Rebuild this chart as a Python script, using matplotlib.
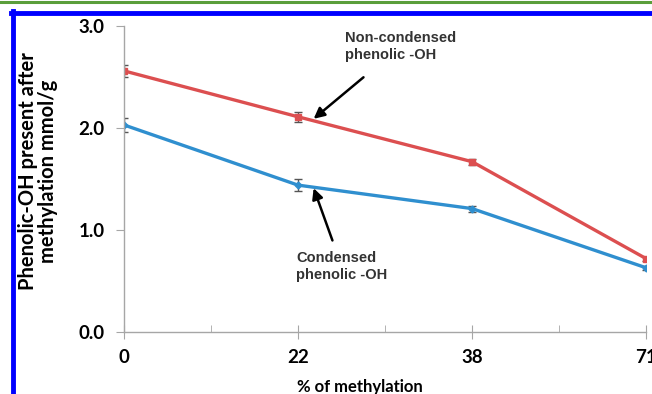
import matplotlib.pyplot as plt
from matplotlib.lines import Line2D
import numpy as np

# data
methylation = ["0", "22", "38", "71"]
non_condensed = [2.56, 2.11, 1.67, 0.72]
non_condensed_err = [0.06, 0.05, 0.03, 0.02]
condensed = [2.03, 1.44, 1.21, 0.63]
condensed_err = [0.07, 0.06, 0.03, 0.02]

plt.rcParams['font.family'] = ['Lato', 'DejaVu Sans']
plt.rcParams['font.weight'] = 'bold'

fig = plt.figure(figsize=(6.52, 3.94), dpi=100)
ax = fig.add_axes([124/652, 1-332/394, (646-124)/652, (332-26)/394])

x = np.arange(len(methylation))
red = '#dc4f50'
blue = '#2f8fcf'
ax.errorbar(x, non_condensed, yerr=non_condensed_err, color=red, lw=2.4,
            marker='s', ms=4, ecolor='#555555', elinewidth=1, capsize=3, capthick=1)
ax.errorbar(x, condensed, yerr=condensed_err, color=blue, lw=2.4,
            marker='D', ms=3.5, ecolor='#555555', elinewidth=1, capsize=3, capthick=1)

ax.set_xlim(0, 3)
ax.set_ylim(0, 3)
ax.set_xticks(x)
ax.set_xticklabels(methylation, fontsize=13.5, fontweight='bold')
ax.set_xticks(x[:-1] + 0.5, minor=True)
ax.set_yticks([0, 1, 2, 3])
ax.set_yticklabels(["%.1f" % v for v in [0, 1, 2, 3]], fontsize=13.5, fontweight='bold')

for s in ['top', 'right']:
    ax.spines[s].set_visible(False)
for s in ['left', 'bottom']:
    ax.spines[s].set_color('#a6a6a6')
    ax.spines[s].set_linewidth(1)
ax.tick_params(axis='y', direction='out', length=6, color='#a6a6a6', pad=8)
ax.tick_params(axis='x', which='major', direction='inout', length=10, color='#a6a6a6', pad=7)
ax.tick_params(axis='x', which='minor', direction='in', length=5, color='#a6a6a6')

ax.set_ylabel("Phenolic-OH present after\nmethylation mmol/g", fontsize=14.5,
              fontweight='bold', linespacing=1.0)
ax.yaxis.set_label_coords(-0.126, 0.525)
ax.set_xlabel("% of methylation", fontsize=12, fontweight='bold')
ax.xaxis.set_label_coords(0.452, -0.155)

ax.annotate("Non-condensed\nphenolic -OH", xy=(1.09, non_condensed[1] - 0.02),
            xytext=(1.27, 2.8), fontsize=10.5, fontweight='bold', color='#333333',
            family=['Liberation Sans', 'DejaVu Sans'],
            ha='left', va='center', linespacing=1.3,
            arrowprops=dict(arrowstyle='-|>', color='black', lw=1.8,
                            shrinkA=14, shrinkB=0, mutation_scale=16))
ax.annotate("Condensed\nphenolic -OH", xy=(1.09, condensed[1] - 0.03),
            xytext=(0.99, 0.64), fontsize=10.5, fontweight='bold', color='#333333',
            family=['Liberation Sans', 'DejaVu Sans'],
            ha='left', va='center', linespacing=1.3,
            arrowprops=dict(arrowstyle='-|>', color='black', lw=1.8,
                            shrinkA=6, shrinkB=0, mutation_scale=16))

# page decorations: green rule at top, blue frame
fig.add_artist(Line2D([0, 1], [1 - 1.5/394, 1 - 1.5/394], color='#5a9e3a', lw=2.2))
fig.add_artist(Line2D([12.5/652, 12.5/652], [0, 1 - 11/394], color='#0000ff', lw=3.5))
fig.add_artist(Line2D([11/652, 1], [1 - 13/394, 1 - 13/394], color='#0000ff', lw=3.5))

fig.savefig("out.png", dpi=100)
